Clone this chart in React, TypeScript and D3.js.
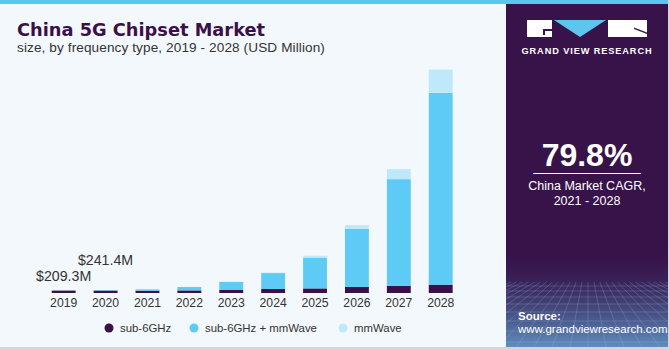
import * as d3 from 'd3';

const YEARS = ['2019', '2020', '2021', '2022', '2023', '2024', '2025', '2026', '2027', '2028'];
const SERIES = ['sub-6GHz', 'sub-6GHz + mmWave', 'mmWave'];
// USD million
const SUB6 = [200, 200, 190, 215, 250, 330, 380, 500, 600, 690];
const SUB6_MM = [9, 40, 110, 280, 660, 1320, 2520, 4800, 8830, 15900];
const MMWAVE = [0.3, 1.4, 5, 12, 30, 40, 190, 330, 830, 1920];
const LABELS = [
  { i: 0, text: '$209.3M', dy: -9 },
  { i: 1, text: '$241.4M', dy: -25 },
];
const COLORS = ['#3B1049', '#5ECBF6', '#BFE9FA'];

const W = 670;
const H = 350;
const FONT = '"Liberation Sans", Arial, sans-serif';

export default function App() {
  const rows = YEARS.map((year, i) => ({
    year,
    [SERIES[0]]: SUB6[i],
    [SERIES[1]]: SUB6_MM[i],
    [SERIES[2]]: MMWAVE[i],
  }));
  const stacked = d3.stack<any>().keys(SERIES)(rows);
  const total = d3.max(rows, (d: any) => d[SERIES[0]] + d[SERIES[1]] + d[SERIES[2]]) as number;

  const x = d3.scaleBand<string>()
    .domain(YEARS)
    .range([30.8, 473.6])
    .paddingInner(0.43)
    .paddingOuter(0.5);
  const y = d3.scaleLinear().domain([0, total]).range([293, 69.5]);

  // perspective grid in the panel footer
  const gridLines: string[] = [];
  const vp = { x: 588, y: 250 };
  for (let k = -14; k <= 14; k++) {
    const bx = 588 + k * 18;
    const t = (282 - vp.y) / (347 - vp.y);
    gridLines.push(`M${vp.x + (bx - vp.x) * t},282L${bx},347`);
  }
  [286, 291, 297, 304, 312, 321, 331, 342].forEach((gy) => gridLines.push(`M506,${gy}L668,${gy}`));

  const legendX = [109, 194, 343];

  return (
    <svg width={W} height={H} style={{ position: 'absolute', left: 0, top: 0 }} fontFamily={FONT}>
      <defs>
        <linearGradient id="foot" x1="0" y1="0" x2="0" y2="1">
          <stop offset="0" stopColor="#37134A" stopOpacity="0" />
          <stop offset="0.45" stopColor="#3E3A6E" stopOpacity="0.8" />
          <stop offset="1" stopColor="#5F8DBE" stopOpacity="1" />
        </linearGradient>
        <clipPath id="panel">
          <rect x={506} y={4} width={162} height={343} />
        </clipPath>
      </defs>
      <rect x={0} y={0} width={W} height={H} fill="#F3F8FC" />
      <rect x={0} y={347} width={W} height={3} fill="#D2D6DA" />
      <rect x={668} y={0} width={2} height={H} fill="#D2D6DA" />
      <rect x={0} y={0} width={668} height={4} fill="#5CC6EE" />

      {/* right panel */}
      <rect x={506} y={4} width={162} height={343} fill="#37134A" />
      <g clipPath="url(#panel)">
        <rect x={506} y={250} width={162} height={97} fill="url(#foot)" />
        <path d={gridLines.join('')} stroke="#9FC2E6" strokeOpacity={0.35} strokeWidth={0.7} fill="none" />
      </g>
      <g>
        <rect x={527} y={20} width={25} height={17} fill="#fff" />
        <path d="M543,31h9v-2h-9z" fill="#37134A" />
        <path d="M543,31v4h2v-4z" fill="#37134A" />
        <path d="M554,20h52l-26,17z" fill="#5CC6EE" />
        <rect x={608} y={20} width={39} height={17} fill="#fff" />
        <path d="M634,29l13,5v-1.5l-13-5z" fill="#37134A" />
        <text x={587} y={54} textAnchor="middle" fill="#fff" fontSize={9.2} fontWeight="bold" letterSpacing={0.9}>
          GRAND VIEW RESEARCH
        </text>
      </g>
      <text x={587} y={166} textAnchor="middle" fill="#fff" fontSize={32} fontWeight="bold">79.8%</text>
      <line x1={533} x2={641} y1={173.5} y2={173.5} stroke="#fff" strokeWidth={1} />
      <text x={587} y={190} textAnchor="middle" fill="#fff" fontSize={12.5}>China Market CAGR,</text>
      <text x={587} y={205} textAnchor="middle" fill="#fff" fontSize={12.5}>2021 - 2028</text>
      <text x={518} y={320} fill="#fff" fontSize={11.5} fontWeight="bold">Source:</text>
      <text x={518} y={333} fill="#fff" fontSize={11.5}>www.grandviewresearch.com</text>

      {/* titles */}
      <text x={17} y={35.5} fill="#3B1049" fontSize={17.8} fontWeight="bold" fontFamily='"DejaVu Sans", sans-serif'>
        China 5G Chipset Market
      </text>
      <text x={17} y={52} fill="#333" fontSize={13.6} letterSpacing={0.1}>
        size, by frequency type, 2019 - 2028 (USD Million)
      </text>

      {/* bars */}
      {stacked.map((layer, si) => (
        <g key={layer.key} fill={COLORS[si]}>
          {layer.map((d: any, i: number) => (
            <rect
              key={YEARS[i]}
              x={x(YEARS[i])}
              width={x.bandwidth()}
              y={y(d[1])}
              height={Math.max(0, y(d[0]) - y(d[1]))}
            />
          ))}
        </g>
      ))}

      {LABELS.map((l) => (
        <text
          key={l.text}
          x={(x(YEARS[l.i]) as number) + x.bandwidth() / 2}
          y={y(SUB6[l.i] + SUB6_MM[l.i] + MMWAVE[l.i]) + l.dy}
          textAnchor="middle"
          fill="#333"
          fontSize={14.2}
        >
          {l.text}
        </text>
      ))}

      {YEARS.map((yr) => (
        <text key={yr} x={(x(yr) as number) + x.bandwidth() / 2} y={306.5} textAnchor="middle" fill="#333" fontSize={12.2}>
          {yr}
        </text>
      ))}

      {SERIES.map((s, i) => (
        <g key={s}>
          <circle cx={legendX[i]} cy={328} r={4.5} fill={COLORS[i]} />
          <text x={legendX[i] + 11} y={332} fill="#333" fontSize={11.4}>{s}</text>
        </g>
      ))}
    </svg>
  );
}
